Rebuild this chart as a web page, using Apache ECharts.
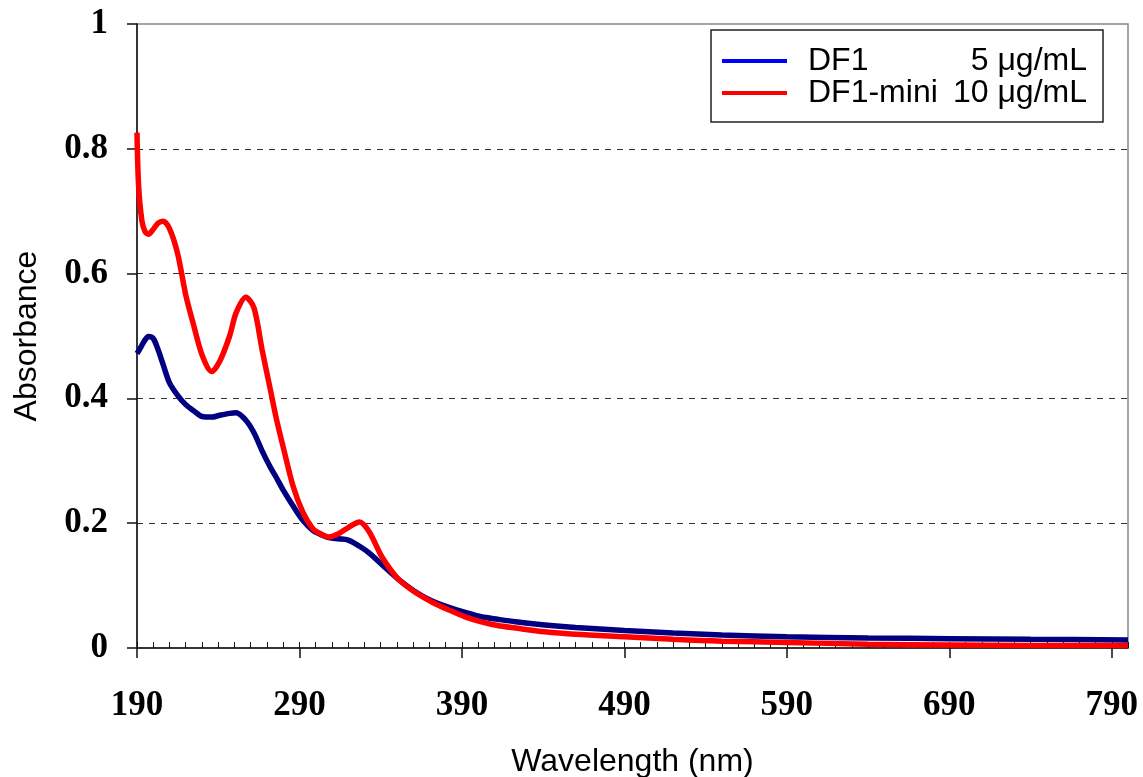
<!DOCTYPE html>
<html>
<head>
<meta charset="utf-8">
<script src="https://cdn.jsdelivr.net/npm/echarts@6/dist/echarts.min.js"></script>
<style>
  html, body { margin: 0; padding: 0; background: #fff; }
  #chart { width: 1143px; height: 777px; }
</style>
</head>
<body>
<div id="chart"></div>
<script>
'use strict';

// wavelength (nm)
var wavelengths = [190, 191, 193, 195, 197, 200, 203, 206, 210, 215, 220, 225, 230, 236, 241, 247, 251, 257,
    262, 267, 272, 276, 280, 286, 292, 298, 303, 308, 314, 320, 327, 333, 341, 351, 362, 372, 382, 392,
    402, 412, 423, 441, 460, 490, 520, 550, 590, 640, 690, 740, 800];

var df1 = [0.472, 0.476, 0.485, 0.494, 0.499, 0.496, 0.478, 0.455, 0.425, 0.405, 0.39, 0.38, 0.371, 0.37,
    0.373, 0.376, 0.377, 0.365, 0.345, 0.316, 0.29, 0.272, 0.253, 0.228, 0.205, 0.189, 0.182, 0.177,
    0.175, 0.173, 0.163, 0.152, 0.133, 0.11, 0.089, 0.075, 0.065, 0.057, 0.05, 0.046, 0.042, 0.037,
    0.033, 0.028, 0.024, 0.021, 0.018, 0.016, 0.015, 0.014, 0.013];

var df1mini = [0.826, 0.74, 0.685, 0.667, 0.663, 0.671, 0.681, 0.684, 0.672, 0.632, 0.566, 0.516, 0.47,
    0.443, 0.46, 0.5, 0.537, 0.562, 0.545, 0.478, 0.415, 0.365, 0.322, 0.26, 0.218, 0.192, 0.183, 0.178,
    0.183, 0.193, 0.202, 0.186, 0.145, 0.11, 0.088, 0.073, 0.061, 0.05, 0.042, 0.036, 0.032, 0.026,
    0.022, 0.018, 0.014, 0.011, 0.009, 0.006, 0.005, 0.004, 0.004];

var seriesNames = ['DF1', 'DF1-mini'];
var concentrations = ['5 \u03bcg/mL', '10 \u03bcg/mL'];
var majorTicks = [190, 290, 390, 490, 590, 690, 790];

function pairs(ys) {
    return wavelengths.map(function (w, i) { return [w, ys[i]]; });
}

var myChart = echarts.init(document.getElementById('chart'));

var option = {
    animation: false,
    backgroundColor: '#fff',
    grid: {
        left: 137,
        top: 24,
        right: 15,
        bottom: 129,
        outerBoundsMode: 'none',
        containLabel: false,
        show: true,
        borderColor: '#888',
        borderWidth: 1.5
    },
    legend: {
        orient: 'vertical',
        left: 711,
        top: 30,
        padding: [15, 16, 13, 11],
        itemGap: 0,
        itemWidth: 65,
        itemHeight: 4,
        icon: 'rect',
        borderColor: '#222',
        borderWidth: 1.5,
        backgroundColor: '#fff',
        data: [
            {name: 'DF1', itemStyle: {color: '#0000ff'}},
            {name: 'DF1-mini', itemStyle: {color: '#ff0000'}}
        ],
        formatter: function (name) {
            var i = seriesNames.indexOf(name);
            return '{n|' + name + '}{c|' + concentrations[i] + '}';
        },
        textStyle: {
            rich: {
                n: {fontFamily: 'Liberation Sans', fontSize: 32, lineHeight: 38, color: '#000',
                    width: 140, padding: [0, 0, 0, 16]},
                c: {fontFamily: 'Liberation Sans', fontSize: 32, lineHeight: 38, color: '#000',
                    width: 139, align: 'right'}
            }
        }
    },
    xAxis: [
        {
            type: 'value',
            min: 190,
            max: 800,
            interval: 10,
            name: 'Wavelength (nm)',
            nameLocation: 'middle',
            nameGap: 114,
            nameTextStyle: {fontFamily: 'Liberation Sans', fontSize: 32, color: '#000', verticalAlign: 'middle'},
            axisLine: {show: true, onZero: false, lineStyle: {color: '#111', width: 1.5}},
            axisTick: {show: true, inside: true, length: 6, lineStyle: {color: '#111', width: 1}},
            axisLabel: {show: false},
            splitLine: {show: false}
        },
        {
            type: 'value',
            position: 'bottom',
            min: 190,
            max: 800,
            interval: 10,
            axisLine: {show: false},
            axisTick: {show: true, inside: false, length: 10, customValues: majorTicks,
                lineStyle: {color: '#111', width: 1.5}},
            axisLabel: {
                customValues: majorTicks,
                margin: 40,
                fontFamily: 'Liberation Serif',
                fontWeight: 'bold',
                fontSize: 35,
                color: '#000'
            },
            splitLine: {show: false}
        }
    ],
    yAxis: {
        type: 'value',
        min: 0,
        max: 1,
        interval: 0.2,
        name: 'Absorbance',
        nameLocation: 'middle',
        nameGap: 110,
        nameRotate: 90,
        nameTextStyle: {fontFamily: 'Liberation Sans', fontSize: 32, color: '#000', verticalAlign: 'middle'},
        axisLine: {show: true, lineStyle: {color: '#111', width: 1.5}},
        axisTick: {show: true, length: 10, lineStyle: {color: '#111', width: 1.5}},
        axisLabel: {
            margin: 29,
            fontFamily: 'Liberation Serif',
            fontWeight: 'bold',
            fontSize: 35,
            color: '#000'
        },
        splitLine: {
            show: true,
            showMinLine: false,
            showMaxLine: false,
            lineStyle: {color: '#333', type: [6, 6], width: 1}
        }
    },
    series: [
        {
            name: 'DF1',
            type: 'line',
            xAxisIndex: 0,
            data: pairs(df1),
            showSymbol: false,
            smooth: 0.3,
            lineStyle: {color: '#000080', width: 5.5},
            itemStyle: {color: '#000080'},
            z: 3
        },
        {
            name: 'DF1-mini',
            type: 'line',
            xAxisIndex: 0,
            data: pairs(df1mini),
            showSymbol: false,
            smooth: 0.3,
            lineStyle: {color: '#ff0000', width: 5.5},
            itemStyle: {color: '#ff0000'},
            z: 4
        }
    ]
};

myChart.setOption(option);
window.onresize = function () {
    myChart.resize();
};
</script>
</body>
</html>
